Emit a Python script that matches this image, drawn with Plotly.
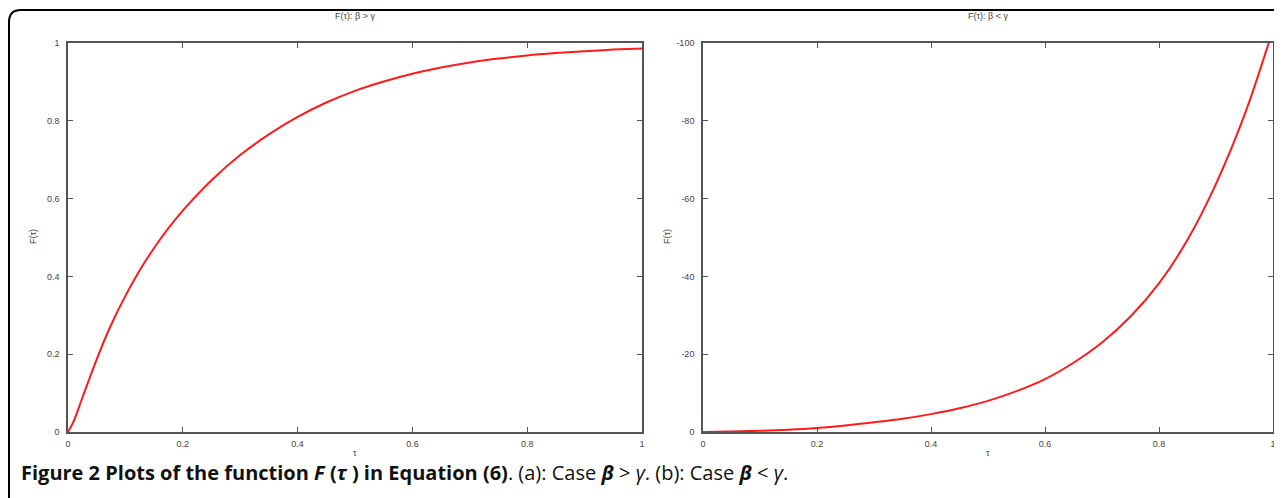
import plotly.graph_objects as go

# ---- data ----
tau_a = [0.00, 0.01, 0.025, 0.05, 0.075, 0.10, 0.125, 0.15, 0.175, 0.20,
         0.25, 0.30, 0.35, 0.40, 0.45, 0.50, 0.55, 0.60, 0.65, 0.70, 0.75,
         0.80, 0.85, 0.90, 0.95, 1.00]
F_a = [0.000, 0.028, 0.088, 0.187, 0.275, 0.350, 0.416, 0.473, 0.524, 0.569,
       0.647, 0.712, 0.765, 0.810, 0.847, 0.877, 0.901, 0.921, 0.937, 0.950, 0.960,
       0.968, 0.974, 0.979, 0.983, 0.986]

tau_b = [0.00, 0.05, 0.10, 0.15, 0.20, 0.25, 0.30, 0.35, 0.40, 0.45, 0.50,
         0.55, 0.60, 0.65, 0.70, 0.75, 0.80, 0.85, 0.90, 0.95, 1.00]
F_b = [0.0, -0.1, -0.3, -0.6, -1.05, -1.7, -2.5, -3.4, -4.6, -6.1, -8.0,
       -10.5, -13.6, -17.8, -23.0, -29.7, -38.2, -49.4, -63.8, -81.5, -103.5]

xticks = [0, 0.2, 0.4, 0.6, 0.8, 1]
xticktext = ["0", "0.2", "0.4", "0.6", "0.8", "1"]
yticks_a = [0, 0.2, 0.4, 0.6, 0.8, 1]
yticktext_a = ["0", "0.2", "0.4", "0.6", "0.8", "1"]
yticks_b = [0, -20, -40, -60, -80, -100]
yticktext_b = ["0", "-20", "-40", "-60", "-80", "-100"]

title_a = "F(τ): β > γ"
title_b = "F(τ): β < γ"
xlabel = "τ"
ylabel = "F(τ)"

# the page body has an 8px margin: build the figure 8px smaller and shift coords
OFF = 8
W, H = 1282 - OFF, 498 - OFF


def px(x):
    return (x - OFF) / W


def py(y):
    return 1 - (y - OFF) / H


fig = go.Figure()
fig.add_trace(go.Scatter(x=tau_a, y=F_a, mode="lines",
                         line=dict(color="#ff1a1a", width=2, shape="spline", smoothing=1.0),
                         xaxis="x", yaxis="y", showlegend=False, hoverinfo="skip"))
fig.add_trace(go.Scatter(x=tau_b, y=F_b, mode="lines",
                         line=dict(color="#ff1a1a", width=2, shape="spline", smoothing=1.0),
                         xaxis="x2", yaxis="y2", showlegend=False, hoverinfo="skip"))

axis_common = dict(showline=True, linecolor="#555", linewidth=1.6, mirror="ticks",
                   ticks="inside", ticklen=5, tickwidth=1.2, tickcolor="#555",
                   showgrid=False, zeroline=False, automargin=False,
                   tickfont=dict(family="Liberation Sans", size=9, color="#444"))

fig.update_layout(
    width=W, height=H,
    margin=dict(l=0, r=0, t=0, b=0, pad=0, autoexpand=False),
    paper_bgcolor="white", plot_bgcolor="white",
    xaxis=dict(domain=[px(68), px(642)], range=[0, 1], tickvals=xticks, ticktext=xticktext,
               anchor="y", ticklabelstandoff=2, **axis_common),
    yaxis=dict(domain=[py(432), py(43)], range=[0, 1], tickvals=yticks_a, ticktext=yticktext_a,
               anchor="x", ticklabelstandoff=5, **axis_common),
    xaxis2=dict(domain=[px(703), px(1273)], range=[0, 1], tickvals=xticks, ticktext=xticktext,
                anchor="y2", ticklabelstandoff=2, **axis_common),
    yaxis2=dict(domain=[py(432), py(43)], range=[0, -100], tickvals=yticks_b, ticktext=yticktext_b,
                anchor="x2", ticklabelstandoff=5, **axis_common),
)

small = dict(family="Liberation Sans", size=9, color="#444")
annos = [
    dict(x=px(355), y=py(16), text=title_a),
    dict(x=px(988), y=py(16), text=title_b),
    dict(x=px(355), y=py(453), text=xlabel),
    dict(x=px(988), y=py(453), text=xlabel),
    dict(x=px(33), y=py(237), text=ylabel, textangle=-90),
    dict(x=px(667), y=py(237), text=ylabel, textangle=-90),
]
for a in annos:
    fig.add_annotation(xref="paper", yref="paper", showarrow=False, font=small,
                       xanchor="center", yanchor="middle", **a)

caption = ("<b>Figure 2 Plots of the function <i>F</i> (<i>τ</i> ) in Equation (6)</b>. "
           "(a): Case <b><i>β</i></b> &gt; <i>γ</i>. (b): Case <b><i>β</i></b> &lt; <i>γ</i>.")
fig.add_annotation(xref="paper", yref="paper", x=px(19), y=py(472), text=caption,
                   showarrow=False, xanchor="left", yanchor="middle",
                   font=dict(family="Open Sans", size=20, color="#111"))

# outer rounded frame
x0, y0 = px(9), py(10)
path = (f"M {x0},{py(520)} L {x0},{py(22)} Q {x0},{y0} {px(21)},{y0} L {px(1300)},{y0}")
fig.add_shape(type="path", xref="paper", yref="paper", path=path,
              line=dict(color="black", width=2))

fig.write_html("out.html")
